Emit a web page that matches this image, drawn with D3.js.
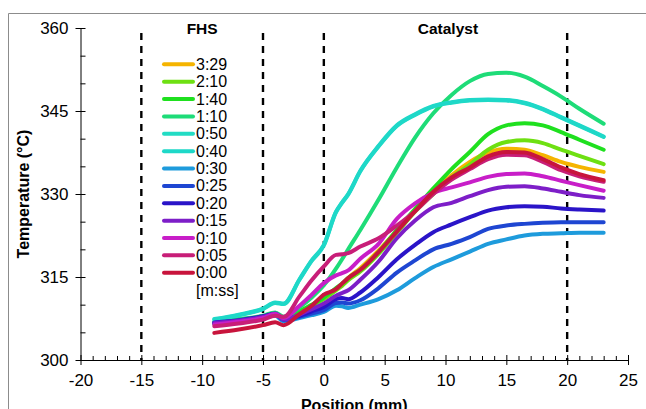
<!DOCTYPE html>
<html><head><meta charset="utf-8">
<script src="https://cdn.jsdelivr.net/npm/d3@7"></script>
<style>
html,body{margin:0;padding:0;background:#fff;}
svg{display:block;font-family:"Liberation Sans",Arial,sans-serif;}
</style></head>
<body><svg id="c" width="646" height="409"></svg>
<script>
// ---- data ----
const positions = [-9, -7, -5, -4, -3.3, -2, -1, 0, 1, 1.5, 2, 3, 4.5, 6, 7.5, 9, 10.5, 12, 13.5, 15, 16.5, 18, 19.5, 21, 23];
const seriesNames = ["3:29","2:10","1:40","1:10","0:50","0:40","0:30","0:25","0:20","0:15","0:10","0:05","0:00"];
const t329 = [306.5,307.0,307.6,308.2,307.3,308.5,309.9,311.4,312.8,313.6,314.8,316.6,319.8,323.4,327.0,330.4,333.4,335.8,337.5,338.2,338.0,337.0,335.8,334.9,334.0];
const t210 = [306.6,307.1,307.8,308.4,307.5,308.6,309.8,311.0,312.6,313.4,314.4,316.0,319.2,323.0,326.8,330.0,333.0,335.3,338.0,339.4,339.7,339.2,338.0,336.9,335.4];
const t140 = [306.7,307.2,307.9,308.5,307.6,308.8,310.0,311.3,313.0,313.8,314.8,316.3,319.5,323.5,327.3,331.0,334.5,337.6,340.8,342.4,342.8,342.4,341.2,339.8,338.0];
const t110 = [306.9,307.4,308.0,308.6,307.8,309.5,311.3,313.5,316.5,318.2,320.0,323.5,329.0,334.8,340.2,344.6,347.9,350.4,351.7,351.9,351.2,349.5,347.6,345.4,342.7];
const t050 = [307.3,308.1,309.2,310.3,310.1,314.5,317.9,320.7,326.7,328.4,329.9,334.1,338.6,342.3,344.3,345.8,346.5,346.9,347.0,346.9,346.4,345.3,343.8,342.3,340.3];
const t040 = [307.4,308.2,309.3,310.4,310.2,314.6,318.0,320.8,326.8,328.5,330.0,334.2,338.7,342.4,344.4,345.9,346.6,347.0,347.1,347.0,346.5,345.4,343.9,342.4,340.4];
const t030 = [306.6,307.0,307.6,308.0,307.0,307.6,308.1,308.7,309.8,309.7,309.4,310.0,311.0,312.6,314.8,316.8,318.2,319.6,321.0,321.8,322.5,322.8,322.9,323.0,323.0];
const t025 = [306.7,307.1,307.8,308.2,307.2,307.8,308.4,309.0,310.3,310.4,310.2,310.8,313.0,315.8,318.0,320.0,321.0,322.2,323.7,324.3,324.6,324.8,324.9,324.9,324.9];
const t020 = [306.8,307.2,307.9,308.4,307.4,308.0,308.8,309.6,311.0,311.2,311.0,312.2,315.0,318.2,320.8,323.1,324.5,325.8,327.0,327.6,327.8,327.7,327.4,327.2,327.0];
const t015 = [306.7,307.1,307.8,308.3,307.3,308.2,309.2,310.2,311.6,312.1,312.6,314.5,317.8,322.0,325.2,327.6,328.4,329.6,330.7,331.3,331.4,331.0,330.4,329.8,329.3];
const t010 = [306.4,306.9,307.6,308.3,307.6,309.8,311.8,313.9,315.3,315.7,316.2,318.3,321.0,325.5,328.3,330.2,331.2,332.1,333.1,333.6,333.7,333.2,332.4,331.6,330.6];
const t005 = [306.1,306.6,307.3,308.0,307.8,311.5,314.4,316.9,319.0,319.1,319.3,320.5,322.0,324.3,326.9,330.0,332.6,334.5,336.3,337.1,337.0,335.8,334.3,333.2,332.2];
const t000 = [304.9,305.5,306.3,306.8,306.3,308.3,309.8,311.8,312.8,313.8,314.8,316.3,319.5,323.2,326.9,330.4,333.0,334.8,336.8,337.6,337.5,336.3,334.8,333.6,332.5];
const seriesValues = [t329,t210,t140,t110,t050,t040,t030,t025,t020,t015,t010,t005,t000];
const seriesColors = ["#f5b400","#6ee012","#1fe01f","#1edc78","#22dcc4","#1ed8c8","#1e9bdc","#1e46d2","#2a14c8","#7d1ec8","#c81ec8","#c81e78","#c8143c"];
const xMajorTicks = [-20,-15,-10,-5,0,5,10,15,20,25];
const yMajorTicks = [300,315,330,345,360];
const zoneBoundaries = [-15,-5,0,20];
const zoneLabels = [{text:"FHS", pos:-10},{text:"Catalyst", pos:10.2}];

// ---- layout ----
const svg = d3.select("#c");
const x = d3.scaleLinear().domain([-20,25]).range([80.5,628]);
const y = d3.scaleLinear().domain([300,360]).range([360,28]);

// outer frame
svg.append("path").attr("d","M8.5,420 V13.5 H660").attr("fill","none").attr("stroke","#8c8c8c").attr("stroke-width",1);

// dashed zone lines
svg.selectAll("line.zone").data(zoneBoundaries).enter().append("line")
  .attr("x1",d=>x(d)).attr("x2",d=>x(d)).attr("y1",33).attr("y2",y(300))
  .attr("stroke","#000").attr("stroke-width",2.4).attr("stroke-dasharray","7,6");

svg.selectAll("text.zl").data(zoneLabels).enter().append("text")
  .attr("x",d=>x(d.pos)).attr("y",34).attr("text-anchor","middle")
  .attr("font-weight","bold").attr("font-size",15.5).text(d=>d.text);

// lines
const line = d3.line().x((d,i)=>x(positions[i])).y(d=>y(d)).curve(d3.curveMonotoneX);
seriesValues.forEach((vals,k)=>{
  svg.append("path").attr("d",line(vals)).attr("fill","none")
    .attr("stroke",seriesColors[k]).attr("stroke-width",4).attr("stroke-linecap","round").attr("stroke-linejoin","round");
});

// axes
const xMinor = d3.range(-20,26,1).filter(v=>v%5!==0);
const gxm = svg.append("g").attr("transform",`translate(0,${y(300)})`)
  .call(d3.axisBottom(x).tickValues(xMinor).tickSize(-4).tickSizeOuter(0).tickFormat(""));
gxm.select(".domain").remove();
const gx = svg.append("g").attr("transform",`translate(0,${y(300)})`)
  .call(d3.axisBottom(x).tickValues(xMajorTicks).tickSize(5).tickSizeOuter(0).tickPadding(9).tickFormat(d3.format("d")));
gx.selectAll(".tick line").attr("y1",-5);
gx.selectAll("text").attr("font-size",17).attr("fill","#000").text(d=>String(d).replace("\u2212","-"));

const yMinor = d3.range(305,360,15).concat(d3.range(310,360,15));
const gym = svg.append("g").attr("transform",`translate(${x(-20)},0)`)
  .call(d3.axisLeft(y).tickValues(yMinor).tickSize(-5).tickSizeOuter(0).tickFormat(""));
gym.select(".domain").remove();
const gy = svg.append("g").attr("transform",`translate(${x(-20)},0)`)
  .call(d3.axisLeft(y).tickValues(yMajorTicks).tickSize(5).tickSizeOuter(0).tickPadding(7));
gy.selectAll(".tick line").attr("x1",5);
gy.selectAll("text").attr("font-size",17).attr("fill","#000");
svg.selectAll(".domain,.tick line").attr("stroke","#000");

// axis titles
svg.append("text").attr("transform",`translate(29,${(y(300)+y(360))/2}) rotate(-90)`)
  .attr("text-anchor","middle").attr("font-weight","bold").attr("font-size",16).text("Temperature (\u00b0C)");
svg.append("text").attr("x",(x(-20)+x(25))/2).attr("y",411).attr("text-anchor","middle")
  .attr("font-weight","bold").attr("font-size",16).text("Position (mm)");

// legend
const lg = svg.append("g");
seriesNames.forEach((n,i)=>{
  const yy = 64.3 + i*17.37;
  lg.append("line").attr("x1",164).attr("x2",193).attr("y1",yy).attr("y2",yy)
    .attr("stroke",seriesColors[i]).attr("stroke-width",4).attr("stroke-linecap","round");
  lg.append("text").attr("x",196).attr("y",yy+5.5).attr("font-size",16).text(n);
});
lg.append("text").attr("x",196).attr("y",64.3+13*17.37+5.5).attr("font-size",16).text("[m:ss]");
</script></body></html>
